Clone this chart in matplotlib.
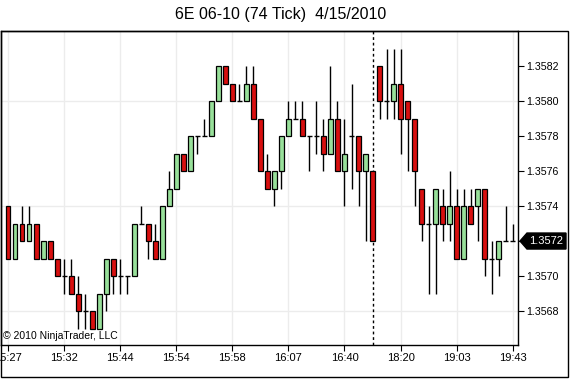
import matplotlib
matplotlib.use('Agg')
import matplotlib.pyplot as plt
import matplotlib.transforms as mtransforms
from matplotlib.patches import Polygon, Rectangle

plt.rcParams['font.family'] = ['Liberation Sans', 'DejaVu Sans']

# 74-tick bars, 6E 06-10
opens = [1.3574, 1.3571, 1.3573, 1.3572, 1.3573, 1.3571, 1.3572, 1.3571, 1.3570, 1.3570,
         1.3569, 1.3568, 1.3568, 1.3567, 1.3569, 1.3571, 1.3570, 1.3570, 1.3570, 1.3573,
         1.3573, 1.3572, 1.3571, 1.3574, 1.3575, 1.3577, 1.3576, 1.3578, 1.3578, 1.3578,
         1.3580, 1.3582, 1.3581, 1.3580, 1.3580, 1.3581, 1.3579, 1.3576, 1.3575, 1.3576,
         1.3578, 1.3579, 1.3579, 1.3578, 1.3578, 1.3578, 1.3577, 1.3579, 1.3576, 1.3578,
         1.3578, 1.3576, 1.3576, 1.3582, 1.3580, 1.3580, 1.3581, 1.3580, 1.3579, 1.3575,
         1.3573, 1.3573, 1.3574, 1.3573, 1.3574, 1.3571, 1.3574, 1.3574, 1.3575, 1.3571,
         1.3571, 1.3572, 1.3572]
highs = [1.3574, 1.3573, 1.3574, 1.3574, 1.3573, 1.3572, 1.3572, 1.3571, 1.3571, 1.3571,
         1.3570, 1.3569, 1.3568, 1.3569, 1.3571, 1.3571, 1.3571, 1.3570, 1.3573, 1.3574,
         1.3573, 1.3573, 1.3574, 1.3576, 1.3577, 1.3577, 1.3578, 1.3578, 1.3579, 1.3580,
         1.3582, 1.3582, 1.3581, 1.3581, 1.3582, 1.3582, 1.3579, 1.3577, 1.3576, 1.3578,
         1.3580, 1.3580, 1.3580, 1.3578, 1.3580, 1.3579, 1.3582, 1.3580, 1.3579, 1.3581,
         1.3578, 1.3577, 1.3576, 1.3582, 1.3583, 1.3583, 1.3583, 1.3580, 1.3579, 1.3575,
         1.3574, 1.3575, 1.3575, 1.3576, 1.3575, 1.3575, 1.3575, 1.3575, 1.3575, 1.3572,
         1.3572, 1.3574, 1.3573]
lows = [1.3571, 1.3571, 1.3572, 1.3572, 1.3571, 1.3571, 1.3571, 1.3570, 1.3569, 1.3569,
        1.3567, 1.3567, 1.3567, 1.3567, 1.3568, 1.3569, 1.3569, 1.3569, 1.3570, 1.3573,
        1.3571, 1.3571, 1.3571, 1.3574, 1.3575, 1.3576, 1.3576, 1.3577, 1.3578, 1.3578,
        1.3580, 1.3581, 1.3580, 1.3580, 1.3580, 1.3579, 1.3576, 1.3575, 1.3574, 1.3575,
        1.3578, 1.3579, 1.3578, 1.3576, 1.3577, 1.3576, 1.3577, 1.3576, 1.3574, 1.3575,
        1.3574, 1.3572, 1.3572, 1.3579, 1.3579, 1.3579, 1.3577, 1.3576, 1.3574, 1.3572,
        1.3569, 1.3569, 1.3572, 1.3572, 1.3571, 1.3571, 1.3573, 1.3572, 1.3570, 1.3569,
        1.3570, 1.3572, 1.3572]
closes = [1.3571, 1.3573, 1.3572, 1.3573, 1.3571, 1.3572, 1.3571, 1.3570, 1.3570, 1.3569,
          1.3568, 1.3568, 1.3567, 1.3569, 1.3571, 1.3570, 1.3570, 1.3570, 1.3573, 1.3573,
          1.3572, 1.3571, 1.3574, 1.3575, 1.3577, 1.3576, 1.3578, 1.3578, 1.3578, 1.3580,
          1.3582, 1.3581, 1.3580, 1.3580, 1.3581, 1.3579, 1.3576, 1.3575, 1.3576, 1.3578,
          1.3579, 1.3579, 1.3578, 1.3578, 1.3578, 1.3577, 1.3579, 1.3576, 1.3577, 1.3578,
          1.3576, 1.3577, 1.3572, 1.3580, 1.3580, 1.3581, 1.3579, 1.3579, 1.3576, 1.3573,
          1.3573, 1.3575, 1.3573, 1.3574, 1.3571, 1.3574, 1.3573, 1.3575, 1.3571, 1.3571,
          1.3572, 1.3572, 1.3572]

time_labels = ['15:27', '15:32', '15:44', '15:54', '15:58', '16:07',
               '16:40', '18:20', '19:03', '19:43']
tick_every = 8
session_break = 52
price_ticks = [1.3568, 1.3570, 1.3572, 1.3574, 1.3576, 1.3578, 1.3580, 1.3582]
grid_prices = [1.3568, 1.3574, 1.3580]
last_price = closes[-1]

up_color = '#98e09a'
down_color = '#d80f0f'

W, H = 572, 389
fig = plt.figure(figsize=(W / 100, H / 100), dpi=100)
# plot panel: x 1..518, y 31..345 (pixels from top)
ax = fig.add_axes([1 / W, (H - 345) / H, 517 / W, 314 / H])
ax.set_xlim(-1.0, 72.75)
ax.set_ylim(1.356606, 1.3584)

n = len(closes)
xs = list(range(n))
tick_pos = xs[::tick_every]

# grid
for t in tick_pos:
    ax.axvline(t, color='#ececec', lw=1, zorder=0)
for g in grid_prices:
    ax.axhline(g, color='#ececec', lw=1, zorder=0)

body_w = 0.7
for i in xs:
    o, h, l, c = opens[i], highs[i], lows[i], closes[i]
    ax.vlines(i, l, h, color='black', lw=1, zorder=2)
    if abs(c - o) < 1e-9:
        ax.hlines(o, i - body_w / 2, i + body_w / 2, color='black', lw=1, zorder=3)
    else:
        col = up_color if c > o else down_color
        ax.bar(i, abs(c - o), bottom=min(o, c), width=body_w, color=col,
               edgecolor='black', linewidth=0.9, zorder=3)

ax.axvline(session_break, color='black', lw=1, ls=(0, (2, 2)), zorder=1)

# axes styling
for side in ['left', 'top', 'right', 'bottom']:
    ax.spines[side].set_color('black')
    ax.spines[side].set_linewidth(1)
ax.yaxis.tick_right()
ax.set_yticks(price_ticks)
ax.set_yticklabels(['%.4f' % p if abs(p - last_price) > 1e-9 else '' for p in price_ticks])
ax.set_xticks(tick_pos)
ax.set_xticklabels(time_labels)
ax.tick_params(axis='y', direction='out', length=4, pad=2, labelsize=7.7, right=True, left=False)
ax.tick_params(axis='x', direction='out', length=4, pad=2, labelsize=8)

# last price tag
px = 1 / 517.0
py = 0.0001 / 17.5
trans = mtransforms.blended_transform_factory(ax.transAxes, ax.transData)
tag = Polygon([(1 + 2 * px, last_price), (1 + 9 * px, last_price + 8 * py),
               (1 + 48 * px, last_price + 8 * py), (1 + 48 * px, last_price - 8 * py),
               (1 + 9 * px, last_price - 8 * py)],
              closed=True, transform=trans, facecolor='black', edgecolor='black',
              clip_on=False, zorder=10)
ax.add_patch(tag)
ax.text(1 + 28 * px, last_price, '%.4f' % last_price, transform=trans, color='white',
        fontsize=8, ha='center', va='center', clip_on=False, zorder=11)

ax.text(2 * px, 0.012, '\u00a9 2010 NinjaTrader, LLC', transform=ax.transAxes,
        fontsize=7.5, ha='left', va='bottom', zorder=12)

# outer frame
fig.patches.append(Rectangle((1 / W, (H - 377) / H), 567 / W, 346 / H,
                             transform=fig.transFigure, fill=False,
                             edgecolor='black', lw=1))

fig.text(281 / W, 1 - 14 / H, '6E 06-10 (74 Tick)  4/15/2010', ha='center',
         va='center', fontsize=11.5)

fig.savefig('out.png', dpi=100)
